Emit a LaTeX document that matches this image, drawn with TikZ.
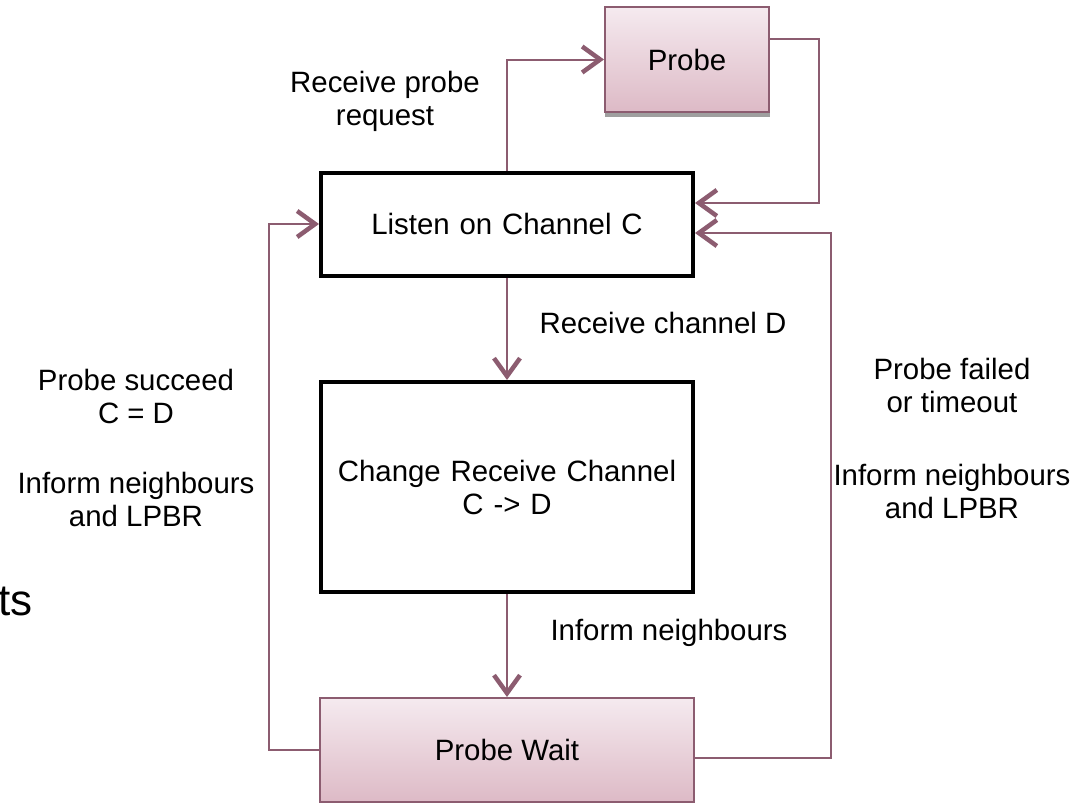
\documentclass[tikz,border=0pt]{standalone}
\usepackage{fontspec}
\setmainfont{Liberation Sans}
\usetikzlibrary{arrows.meta}
\definecolor{conn}{RGB}{140,92,112}
\definecolor{ftop}{RGB}{245,234,239}
\definecolor{fbot}{RGB}{221,186,198}
\begin{document}
\begin{tikzpicture}[x=1pt,y=-1pt, font=\fontsize{29.4}{33}\selectfont,
 conn/.style={draw=conn, line width=2pt, -{Straight Barb[length=18pt,width=26pt,line width=4.5pt]}},
 plainbox/.style={draw=black, line width=4pt, fill=white, minimum width=372pt, text width=360pt, align=center, inner sep=0pt},
 pinkbox/.style={draw=conn, line width=2pt, top color=ftop, bottom color=fbot, inner sep=0pt},
 lbl/.style={align=center, inner sep=0pt}]
\useasboundingbox (0,0) rectangle (1077,803);
\fill[gray!75] (605,110) rectangle (770,117);
\node[pinkbox, minimum width=164pt, minimum height=105pt] (probe) at (687,59.5) {Probe};
\node[plainbox, minimum height=103pt] (listen) at (507,224) {Listen on Channel C};
\node[plainbox, minimum height=210pt] (change) at (507,487) {Change Receive Channel\\C -> D};
\node[pinkbox, minimum width=374pt, minimum height=104pt] (pw) at (507,750) {Probe Wait};
\draw[conn] (listen.north) |- (probe.west);
\draw[conn] ([yshift=21pt]probe.east) -- ++(49,0) |- ([yshift=21pt]listen.east);
\draw[conn] ([yshift=-8pt]pw.east) -- ++(136,0) |- ([yshift=-9pt]listen.east);
\draw[conn] (pw.west) -- ++(-50,0) |- (listen.west);
\draw[conn] (listen.south) -- (change.north);
\draw[conn] (change.south) -- (pw.north);
\node[lbl] (t1) at (385,101) {Receive probe\\request};
\node[lbl] (t2) at (663,323) {Receive channel D};
\node[lbl] (t3) at (136,396) {Probe succeed\\C = D};
\node[lbl] (t4) at (136,499) {Inform neighbours\\and LPBR};
\node[lbl] (t5) at (669,633) {Inform neighbours};
\node[lbl] (t6) at (952,385) {Probe failed\\or timeout};
\node[lbl] (t7) at (952,491) {Inform neighbours\\and LPBR};
\node[anchor=base east, font=\fontsize{44}{50}\selectfont, inner sep=0pt] (t8) at (33,615) {ts};
\end{tikzpicture}
\end{document}
